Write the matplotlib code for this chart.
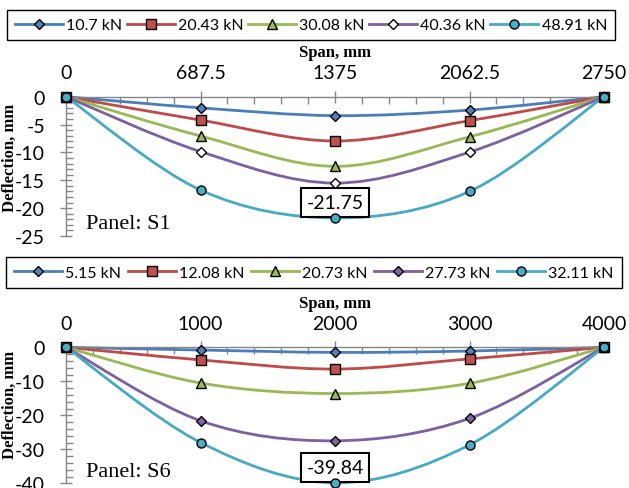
import numpy as np
import matplotlib
matplotlib.use('Agg')
import matplotlib.pyplot as plt
from matplotlib.path import Path
from matplotlib.patches import PathPatch
from matplotlib.lines import Line2D
from matplotlib.ticker import MultipleLocator, FuncFormatter

plt.rcParams['axes.unicode_minus'] = False

# Panel S1 - deflection along span (mm)
span_s1 = [0, 687.5, 1375, 2062.5, 2750]
loads_s1 = ['10.7 kN', '20.43 kN', '30.08 kN', '40.36 kN', '48.91 kN']
s1_10_7 = [0, -2.0, -3.4, -2.4, 0]
s1_20_43 = [0, -4.2, -7.95, -4.3, 0]
s1_30_08 = [0, -7.05, -12.5, -7.2, 0]
s1_40_36 = [0, -9.85, -15.5, -9.95, 0]
s1_48_91 = [0, -16.75, -21.75, -17.0, 0]

# Panel S6
span_s6 = [0, 1000, 2000, 3000, 4000]
loads_s6 = ['5.15 kN', '12.08 kN', '20.73 kN', '27.73 kN', '32.11 kN']
s6_5_15 = [0, -0.8, -1.5, -1.1, 0]
s6_12_08 = [0, -3.7, -6.4, -3.4, 0]
s6_20_73 = [0, -10.5, -13.6, -10.6, 0]
s6_27_73 = [0, -21.6, -27.5, -20.9, 0]
s6_32_11 = [0, -28.0, -39.84, -28.7, 0]

line_cols = ['#4A7EBB', '#BE4B48', '#98B954', '#7D60A0', '#46AAC5']
mk_face = ['#4F81BD', '#C0504D', '#9BBB59', '#8064A2', '#4BACC6']
mk_shape = ['D', 's', '^', 'D', 'o']
mk_size = [5, 6.5, 6.5, 5, 6.5]
grey = '#868686'
tick_font = 'Lato'


def smooth_path(x, y):
    # excel style smoothed line -> cubic bezier through the points
    pts = np.column_stack([x, y]).astype(float)
    n = len(pts)
    verts = [pts[0]]
    codes = [Path.MOVETO]
    for i in range(n - 1):
        p0 = pts[max(i - 1, 0)]
        p1 = pts[i]
        p2 = pts[i + 1]
        p3 = pts[min(i + 2, n - 1)]
        verts += [p1 + (p2 - p0) / 6.0, p2 - (p3 - p1) / 6.0, p2]
        codes += [Path.CURVE4] * 3
    return Path(verts, codes)


def draw_panel(ax, span, series, loads, purple_fill, ymin, ymaj, ymin_step, xmin_step,
               peak, panel_name):
    for i, vals in enumerate(series):
        ax.add_patch(PathPatch(smooth_path(span, vals), fill=False, edgecolor=line_cols[i],
                               lw=2.0, zorder=2, clip_on=False, capstyle='round'))
        fc = mk_face[i]
        if i == 3:
            fc = purple_fill
        ax.plot(span, vals, linestyle='none', marker=mk_shape[i], ms=mk_size[i],
                mfc=fc, mec='black', mew=1.0, zorder=4, clip_on=False)

    ax.set_xlim(span[0], span[-1])
    ax.set_ylim(ymin, 0)
    for s in ['right', 'bottom']:
        ax.spines[s].set_visible(False)
    for s in ['left', 'top']:
        ax.spines[s].set_color(grey)
        ax.spines[s].set_linewidth(1.0)

    ax.xaxis.set_ticks_position('top')
    ax.set_xticks(span)
    ax.xaxis.set_minor_locator(MultipleLocator(xmin_step))
    ax.xaxis.set_major_formatter(FuncFormatter(lambda v, p: '{:g}'.format(v)))
    ax.yaxis.set_major_locator(MultipleLocator(ymaj))
    ax.yaxis.set_minor_locator(MultipleLocator(ymin_step))
    ax.yaxis.set_major_formatter(FuncFormatter(lambda v, p: '{:g}'.format(v)))
    ax.tick_params(which='major', direction='inout', length=8, color=grey, width=1.0,
                   labelsize=14)
    ax.tick_params(which='minor', direction='in', length=5, color=grey, width=1.0)
    ax.tick_params(axis='x', which='major', pad=7)
    ax.tick_params(axis='y', which='major', pad=11)
    for lab in ax.get_xticklabels() + ax.get_yticklabels():
        lab.set_fontfamily(tick_font)

    ax.set_xlabel('Span, mm', family='Liberation Serif', weight='bold', fontsize=12,
                  labelpad=6)
    ax.xaxis.set_label_position('top')

    # peak value label
    ax.annotate('{:g}'.format(peak), xy=(span[2], peak), xytext=(0, 5), textcoords='offset points',
                ha='center', va='bottom', fontsize=14, family=tick_font, zorder=3,
                bbox=dict(boxstyle='square,pad=0.3', fc='white', ec='black', lw=1.5),
                annotation_clip=False)

    ax.text(0.037, 0.02, panel_name, transform=ax.transAxes, family='Liberation Serif',
            fontsize=16, ha='left', va='bottom')

    handles = []
    for i in range(len(loads)):
        fc = mk_face[i]
        if i == 3:
            fc = purple_fill
        handles.append(Line2D([], [], color=line_cols[i], lw=2.0, marker=mk_shape[i],
                              ms=mk_size[i], mfc=fc, mec='black', mew=1.0))
    return handles


W, H = 629.0, 489.0
fig = plt.figure(figsize=(6.29, 4.89), dpi=100)

ax1 = fig.add_axes([66 / W, 1 - 237 / H, 538 / W, 139.3 / H])
ax2 = fig.add_axes([66 / W, 1 - 484.3 / H, 538 / W, 136 / H])

h1 = draw_panel(ax1, span_s1, [s1_10_7, s1_20_43, s1_30_08, s1_40_36, s1_48_91], loads_s1,
                'white', -25, 5, 1, 137.5, -21.75, 'Panel: S1')
h2 = draw_panel(ax2, span_s6, [s6_5_15, s6_12_08, s6_20_73, s6_27_73, s6_32_11], loads_s6,
                mk_face[3], -40, 10, 2, 200, -39.84, 'Panel: S6')

# legends above each panel
for hs, labs, box in [(h1, loads_s1, (7, 10.7, 615, 41.7)), (h2, loads_s6, (6.4, 258, 621.7, 289))]:
    x0, y0, x1, y1 = box
    leg = fig.legend(hs, labs, loc='center', ncol=5, mode='expand',
                     bbox_to_anchor=(x0 / W, 1 - y1 / H, (x1 - x0) / W, (y1 - y0) / H),
                     bbox_transform=fig.transFigure, borderaxespad=0, fancybox=False,
                     framealpha=1, edgecolor='black', handlelength=3.0, handletextpad=0.2,
                     borderpad=0.5, prop={'family': tick_font, 'size': 11.5})
    leg.get_frame().set_linewidth(1.0)

fig.text(10 / W, 1 - 158 / H, 'Deflection, mm', rotation=90, ha='center', va='center',
         family='Liberation Serif', weight='bold', fontsize=12)
fig.text(10 / W, 1 - 405 / H, 'Deflection, mm', rotation=90, ha='center', va='center',
         family='Liberation Serif', weight='bold', fontsize=12)

fig.savefig('out.png', dpi=100)
